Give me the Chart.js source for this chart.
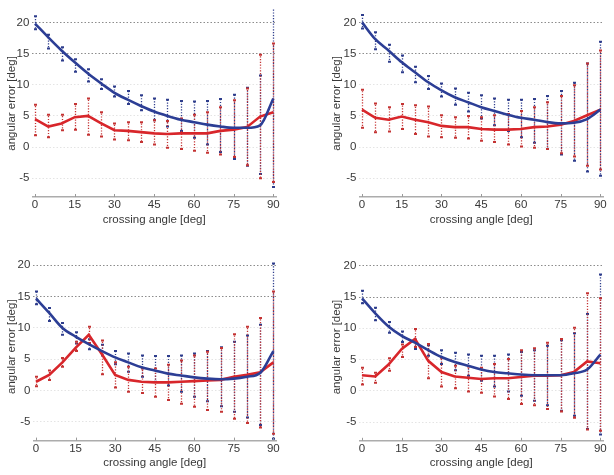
<!DOCTYPE html>
<html><head><meta charset="utf-8">
<script src="https://cdn.jsdelivr.net/npm/chart.js@4/dist/chart.umd.min.js"></script>
<style>
html,body{margin:0;padding:0;background:#fff;}
#wrap{position:relative;width:614px;height:475px;overflow:hidden;background:#fff;}
canvas{position:absolute;display:block;}
</style></head><body>
<div id="wrap">
<canvas id="c0" width="307" height="230" style="left:0;top:0"></canvas>
<canvas id="c1" width="307" height="230" style="left:307px;top:0"></canvas>
<canvas id="c2" width="307" height="245" style="left:0;top:230px"></canvas>
<canvas id="c3" width="307" height="245" style="left:307px;top:230px"></canvas>
</div>
<script>
// ---------- data ----------
const ANGLES = [0,5,10,15,20,25,30,35,40,45,50,55,60,65,70,75,80,85,90];
const X_TICKS = [0,15,30,45,60,75,90];
const Y_TICKS = [-5,0,5,10,15,20];
const X_TITLE = 'crossing angle [deg]';
const Y_TITLE = 'angular error [deg]';

// top-left
const tlBlueMean = [19.8,17.6,15.5,13.6,11.8,10.2,8.7,7.6,6.6,5.7,5.0,4.4,4.0,3.6,3.3,3.1,3.1,3.5,7.8];
const tlRedMean  = [4.5,3.3,3.8,4.8,5.0,3.8,2.7,2.6,2.4,2.2,2.1,2.2,2.2,2.2,2.6,2.8,3.2,4.9,5.6];
const tlBlueHi   = [21.0,18.0,16.0,14.1,12.5,10.9,9.7,9.0,8.3,7.8,7.6,7.4,7.3,7.4,7.7,8.4,9.5,11.5,22.5];
const tlBlueLo   = [18.9,15.8,13.9,12.1,10.5,9.3,8.1,6.9,5.9,4.3,3.3,2.6,1.5,0.4,-0.8,-1.9,-3.0,-4.3,-6.4];
const tlRedHi    = [6.8,5.2,5.2,6.9,7.8,5.6,3.8,4.0,4.0,4.3,4.2,4.6,5.2,5.6,6.4,7.5,9.4,14.8,16.6];
const tlRedLo    = [1.9,1.6,2.7,2.8,2.0,1.7,1.2,1.1,0.8,0.4,-0.1,-0.3,-0.6,-0.9,-1.2,-1.6,-2.9,-5.0,-5.6];

// top-right
const trBlueMean = [20.0,17.3,15.5,13.6,12.0,10.4,9.1,8.0,7.2,6.4,5.8,5.2,4.7,4.4,4.0,3.8,3.9,4.5,6.0];
const trRedMean  = [6.0,4.7,4.4,4.9,4.4,4.0,3.4,3.2,3.2,2.9,2.8,2.8,2.9,3.2,3.3,3.6,4.2,5.1,6.0];
const trBlueHi   = [21.2,18.4,16.4,14.7,12.9,11.4,10.2,9.4,8.7,8.3,7.8,7.6,7.6,7.7,8.2,9.0,10.3,13.4,16.9];
const trBlueLo   = [19.0,15.7,13.7,12.0,10.4,9.3,8.1,6.8,5.7,4.6,3.5,2.6,1.6,0.7,-0.3,-1.2,-2.2,-3.9,-4.6];
const trRedHi    = [9.2,7.0,6.4,6.9,6.7,6.5,5.1,4.8,5.0,4.8,5.1,5.3,5.8,6.4,7.2,8.2,9.9,13.4,15.5];
const trRedLo    = [3.1,2.4,2.5,2.9,2.1,1.7,1.6,1.5,1.4,1.0,0.8,0.4,0.1,-0.1,-0.3,-1.0,-1.5,-3.0,-3.6];

// bottom-left
const blBlueMean = [14.7,12.4,10.0,8.6,7.4,6.3,5.3,4.5,3.7,3.2,2.7,2.4,2.1,1.9,1.8,1.9,2.2,2.8,6.3];
const blRedMean  = [1.4,2.5,4.5,6.8,8.9,5.8,2.5,1.7,1.4,1.3,1.3,1.4,1.5,1.6,1.7,2.2,2.5,2.9,4.5];
const blBlueHi   = [15.8,13.2,10.8,9.3,8.2,7.3,6.3,5.9,5.6,5.5,5.5,5.6,5.9,6.3,6.9,7.8,8.8,10.5,20.3];
const blBlueLo   = [13.8,11.1,8.9,7.5,6.6,5.6,4.2,3.0,2.2,1.4,0.8,-0.2,-1.0,-1.7,-2.5,-3.4,-4.3,-5.5,-7.7];
const blRedHi    = [2.2,3.2,5.2,7.8,10.2,8.0,4.5,3.8,3.5,3.5,4.1,4.8,5.6,6.2,6.8,9.0,10.2,11.6,15.8];
const blRedLo    = [0.7,1.7,3.8,6.3,7.6,2.6,0.5,-0.2,-0.4,-1.0,-1.5,-2.1,-2.6,-3.1,-3.4,-4.5,-5.2,-5.9,-6.9];

// bottom-right
const brBlueMean = [14.8,12.4,10.3,8.8,7.7,6.5,5.4,4.6,4.0,3.4,3.0,2.8,2.6,2.5,2.5,2.5,2.8,3.4,5.8];
const brRedMean  = [2.5,2.3,4.2,6.7,8.3,4.8,3.0,2.3,2.1,1.9,2.0,2.0,2.2,2.4,2.4,2.5,3.0,4.7,4.4];
const brBlueHi   = [16.0,13.3,11.0,9.5,8.2,7.3,6.5,6.1,5.8,5.6,5.6,5.8,6.2,6.5,7.2,8.1,9.2,12.3,18.6];
const brBlueLo   = [14.0,11.3,9.3,7.8,6.7,5.6,4.3,3.3,2.4,1.6,0.7,-0.1,-0.8,-1.6,-2.3,-3.2,-4.0,-6.1,-7.0];
const brRedHi    = [3.7,2.9,5.2,7.4,9.9,7.5,5.3,4.0,3.9,3.7,4.3,5.1,6.5,6.8,7.7,8.3,10.1,15.6,14.8];
const brRedLo    = [1.0,1.3,3.2,5.4,7.0,2.0,0.7,0.4,-0.1,-0.3,-0.9,-1.3,-2.1,-2.3,-2.9,-3.3,-4.3,-6.2,-6.4];

// ---------- styling ----------
const BLUE = '#2c3e95';
const RED = '#d8262b';
const BLUE_BAR = '#2e3d8c';
const RED_BAR = '#c43333';
const TEXT = '#383838';
const FONT = "'Liberation Sans', Arial, sans-serif";

const errorBarPlugin = {
  id: 'errorBars',
  beforeDatasetsDraw(chart, args, opts) {
    const {ctx, chartArea, scales: {x, y}} = chart;
    ctx.save();
    ctx.beginPath();
    ctx.rect(chartArea.left, chartArea.top - 1, chartArea.width, chartArea.height + 1);
    ctx.clip();
    (opts.bars || []).forEach((b, k) => {
      ctx.strokeStyle = b.color;
      ctx.lineWidth = 1.3;
      ctx.setLineDash([1.2, 1.6]);
      ctx.lineDashOffset = k * 1.4;
      ANGLES.forEach((a, i) => {
        const px = Math.round(x.getPixelForValue(a)) + 0.5;
        ctx.beginPath();
        ctx.moveTo(px, y.getPixelForValue(b.hi[i]));
        ctx.lineTo(px, y.getPixelForValue(b.lo[i]));
        ctx.stroke();
      });
      ctx.setLineDash([]);
      ctx.lineWidth = 2;
      ANGLES.forEach((a, i) => {
        const px = Math.round(x.getPixelForValue(a)) + 0.5;
        [b.hi[i], b.lo[i]].forEach(v => {
          const py = y.getPixelForValue(v);
          ctx.beginPath();
          ctx.moveTo(px - 1.5, py);
          ctx.lineTo(px + 1.5, py);
          ctx.stroke();
        });
      });
    });
    ctx.restore();
  },
  afterDraw(chart) {
    const {ctx, chartArea, scales: {x}} = chart;
    ctx.save();
    ctx.strokeStyle = '#9a9a9a';
    ctx.lineWidth = 1;
    X_TICKS.forEach(t => {
      const px = Math.round(x.getPixelForValue(t)) + 0.5;
      ctx.beginPath();
      ctx.moveTo(px, chartArea.bottom);
      ctx.lineTo(px, chartArea.bottom - 3);
      ctx.stroke();
    });
    ctx.restore();
  }
};

function pts(vals) { return ANGLES.map((a, i) => ({x: a, y: vals[i]})); }

function makePanel(id, geo, s) {
  new Chart(document.getElementById(id), {
    type: 'line',
    data: {
      datasets: [
        {data: pts(s.blue), borderColor: BLUE, borderWidth: 2.6, pointRadius: 0, cubicInterpolationMode: 'monotone', fill: false},
        {data: pts(s.red), borderColor: RED, borderWidth: 2.6, pointRadius: 0, tension: 0, fill: false}
      ]
    },
    options: {
      responsive: false,
      animation: false,
      layout: {padding: {left: geo.padL, top: geo.padT, right: geo.padR, bottom: 0}},
      plugins: {
        legend: {display: false},
        tooltip: {enabled: false},
        errorBars: {bars: [
          {hi: s.blueHi, lo: s.blueLo, color: BLUE_BAR},
          {hi: s.redHi, lo: s.redLo, color: RED_BAR}
        ]}
      },
      scales: {
        x: {
          type: 'linear', min: -1, max: 91,
          afterBuildTicks(sc) { sc.ticks = X_TICKS.map(v => ({value: v})); },
          afterFit(sc) { sc.height = geo.xH; },
          grid: {display: false, drawTicks: false},
          border: {display: true, color: '#acacac', width: 1.6},
          ticks: {color: TEXT, font: {family: FONT, size: 11.5}, padding: 1, maxRotation: 0, autoSkip: false},
          title: {display: true, text: X_TITLE, color: TEXT, font: {family: FONT, size: 11.5}, padding: {top: 0, bottom: geo.tPadB}}
        },
        y: {
          type: 'linear', min: -8, max: 22,
          afterBuildTicks(sc) { sc.ticks = Y_TICKS.map(v => ({value: v})); },
          afterFit(sc) { sc.width = geo.yW; },
          grid: {drawTicks: false, lineWidth: 1, color: c => (c.tick && c.tick.value >= 15) ? '#8c8c8c' : '#e4e4e4'},
          border: {display: false, dash: [1.5, 2]},
          ticks: {color: TEXT, font: {family: FONT, size: 11.5}, padding: 3},
          title: {display: true, text: Y_TITLE, color: TEXT, font: {family: FONT, size: 11.5}, padding: {top: 0, bottom: 0}}
        }
      }
    },
    plugins: [errorBarPlugin]
  });
}

makePanel('c0', {padL: 5, padT: 9, padR: 31, yW: 27.4, xH: 33, tPadB: 3.4},
  {blue: tlBlueMean, red: tlRedMean, blueHi: tlBlueHi, blueLo: tlBlueLo, redHi: tlRedHi, redLo: tlRedLo});
makePanel('c1', {padL: 23, padT: 9, padR: 11, yW: 29.4, xH: 33, tPadB: 3.4},
  {blue: trBlueMean, red: trRedMean, blueHi: trBlueHi, blueLo: trBlueLo, redHi: trRedHi, redLo: trRedLo});
makePanel('c2', {padL: 5, padT: 22.8, padR: 31, yW: 28.4, xH: 34.4, tPadB: 5.4},
  {blue: blBlueMean, red: blRedMean, blueHi: blBlueHi, blueLo: blBlueLo, redHi: blRedHi, redLo: blRedLo});
makePanel('c3', {padL: 23, padT: 23.3, padR: 11, yW: 29.4, xH: 34.2, tPadB: 5.4},
  {blue: brBlueMean, red: brRedMean, blueHi: brBlueHi, blueLo: brBlueLo, redHi: brRedHi, redLo: brRedLo});
</script>
</body></html>
